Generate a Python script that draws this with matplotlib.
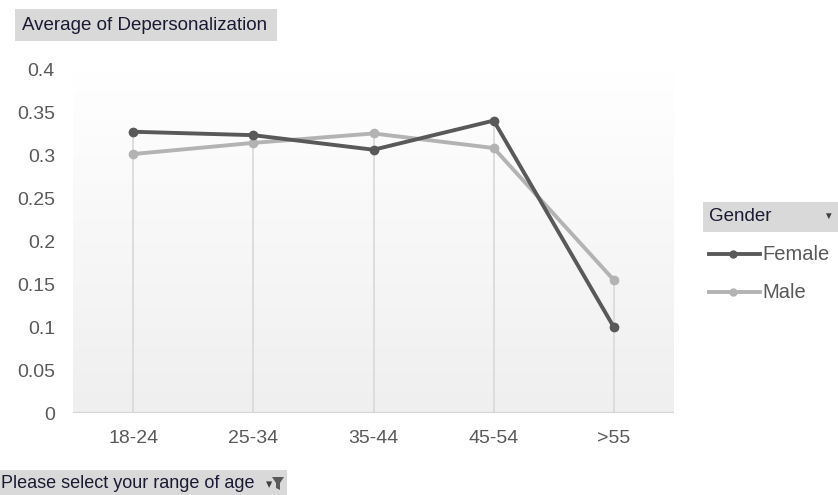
import numpy as np
import matplotlib
matplotlib.use("Agg")
import matplotlib.pyplot as plt
from matplotlib.patches import Rectangle, Polygon

age_groups = ["18-24", "25-34", "35-44", "45-54", ">55"]
female = [0.328, 0.324, 0.307, 0.341, 0.100]
male = [0.302, 0.315, 0.326, 0.309, 0.155]
y_ticks = [0, 0.05, 0.1, 0.15, 0.2, 0.25, 0.3, 0.35, 0.4]
y_tick_labels = ["0", "0.05", "0.1", "0.15", "0.2", "0.25", "0.3", "0.35", "0.4"]

FEMALE_C = "#595959"
MALE_C = "#b3b3b3"
TXT = "#595959"
BTN_TXT = "#1a1a33"

plt.rcParams["font.family"] = ["Liberation Sans", "DejaVu Sans"]

W, H = 838, 495
fig = plt.figure(figsize=(W / 100, H / 100), dpi=100)
fig.patch.set_facecolor("white")

ax = fig.add_axes([73 / W, 1 - 413 / H, (674 - 73) / W, (413 - 70) / H])
x = np.arange(len(age_groups))
ax.set_xlim(-0.5, len(age_groups) - 0.5)
ax.set_ylim(0, 0.4)

# vertical gradient background: white on top, light grey at the base
grad = np.linspace(0, 1, 256).reshape(-1, 1)
cmap = matplotlib.colors.LinearSegmentedColormap.from_list("bg", ["#efefef", "#ffffff"])
ax.imshow(grad, aspect="auto", cmap=cmap, origin="lower",
          extent=(-0.5, len(age_groups) - 0.5, 0, 0.4), zorder=0)

# drop lines from the higher point to the axis
tops = np.maximum(female, male)
ax.vlines(x, 0, tops, colors="#d9d9d9", linewidth=1.2, zorder=1)
ax.axhline(0, color="#d4d4d4", linewidth=1.5, zorder=1)

ax.plot(x, male, color=MALE_C, linewidth=2.8, marker="o", markersize=6, zorder=3,
        solid_joinstyle="round")
ax.plot(x, female, color=FEMALE_C, linewidth=2.8, marker="o", markersize=6, zorder=4,
        solid_joinstyle="round")

for s in ax.spines.values():
    s.set_visible(False)
ax.set_xticks(x)
ax.set_xticklabels(age_groups)
ax.set_yticks(y_ticks)
ax.set_yticklabels(y_tick_labels)
ax.tick_params(axis="both", length=0, labelsize=14, labelcolor=TXT)
ax.tick_params(axis="y", pad=13)
ax.tick_params(axis="x", pad=12)

# field button: value field
fig.patches.append(Rectangle((15 / W, 1 - 41 / H), (277 - 15) / W, 32 / H,
                             transform=fig.transFigure, facecolor="#d9d9d9",
                             edgecolor="none", zorder=0))
fig.text(22 / W, 1 - 26 / H, "Average of Depersonalization", fontsize=13.5,
         color=BTN_TXT, va="center", ha="left")

# field button: axis field
fig.patches.append(Rectangle((0 / W, 1 - 495 / H), 287 / W, 25 / H,
                             transform=fig.transFigure, facecolor="#d9d9d9",
                             edgecolor="none", zorder=0))
fig.text(1 / W, 1 - 484 / H, "Please select your range of age", fontsize=13,
         color=BTN_TXT, va="center", ha="left")
fig.text(269 / W, 1 - 485 / H, "▾", fontsize=9, color="#404040", va="center", ha="center")
fig.patches.append(Polygon([[272 / W, 1 - 477 / H], [284 / W, 1 - 477 / H],
                            [280 / W, 1 - 483 / H], [280 / W, 1 - 490 / H],
                            [276 / W, 1 - 488 / H], [276 / W, 1 - 483 / H]],
                           closed=True, transform=fig.transFigure,
                           facecolor="#5a5a5a", edgecolor="none", zorder=2))

# legend field button
fig.patches.append(Rectangle((703 / W, 1 - 232 / H), (838 - 703) / W, 30 / H,
                             transform=fig.transFigure, facecolor="#d9d9d9",
                             edgecolor="none", zorder=0))
fig.text(709 / W, 1 - 217 / H, "Gender", fontsize=13.5, color=BTN_TXT,
         va="center", ha="left")
fig.text(828 / W, 1 - 216 / H, "▼", fontsize=7, color="#404040",
         va="center", ha="center")

# legend entries
for label, color, yy in [("Female", FEMALE_C, 254), ("Male", MALE_C, 292)]:
    fig.add_artist(matplotlib.lines.Line2D([709 / W, 760 / W], [1 - yy / H, 1 - yy / H],
                                           transform=fig.transFigure, color=color,
                                           linewidth=2.8))
    fig.add_artist(matplotlib.lines.Line2D([733 / W], [1 - yy / H], marker="o",
                                           markersize=5, color=color,
                                           transform=fig.transFigure))
    fig.text(762 / W, 1 - yy / H, label, fontsize=14.5, color=TXT, va="center", ha="left")

fig.savefig("out.png", dpi=100, facecolor="white")
